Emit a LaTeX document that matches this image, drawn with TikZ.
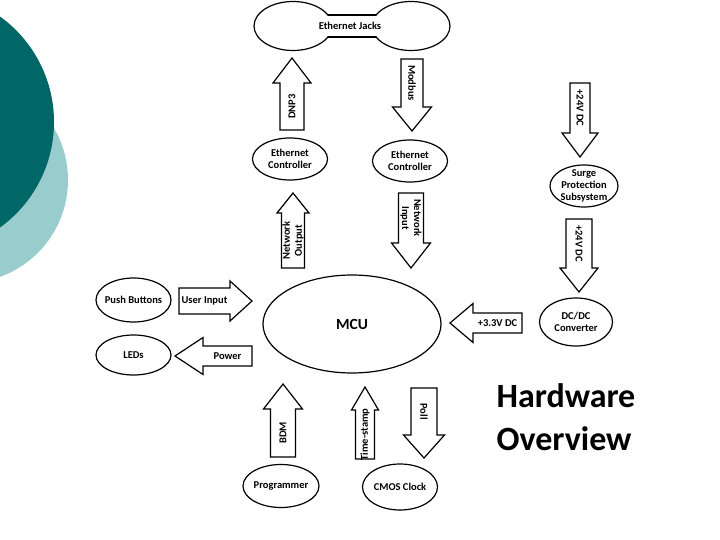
\documentclass[tikz,border=0pt]{standalone}
\usepackage{fontspec}
\setmainfont{Carlito}
\usetikzlibrary{shapes.geometric, positioning, calc}

\definecolor{tealdark}{RGB}{0,102,102}
\definecolor{teallight}{RGB}{153,204,204}

\newcommand{\blklabel}{\fontsize{10.5}{12}\selectfont\bfseries}

% name, tail, tip, shaft half width, head half width, head length, text angle, text
\newcommand{\blockarrow}[8]{%
    \coordinate (#1-t) at #2;
    \coordinate (#1-p) at #3;
    \coordinate (#1-b) at ($(#1-p)!#6!(#1-t)$);
    \draw[fill=white, line join=miter]
        ($(#1-t)!#4!90:(#1-p)$) -- ($(#1-b)!#4!90:(#1-p)$) -- ($(#1-b)!#5!90:(#1-p)$)
        -- (#1-p)
        -- ($(#1-b)!#5!-90:(#1-p)$) -- ($(#1-b)!#4!-90:(#1-p)$) -- ($(#1-t)!#4!-90:(#1-p)$) -- cycle;
    \node[tag, rotate=#7] (#1) at ($(#1-t)!0.5!(#1-b)$) {#8};
}

\begin{document}
\begin{tikzpicture}[x=1pt, y=-1pt, line width=1.2pt]
    \tikzstyle{unit} = [draw, ellipse, fill=white, inner sep=-5pt, align=center, font=\blklabel]
    \tikzstyle{tag} = [inner sep=0pt, align=center, font=\blklabel]

    \fill[white] (0,0) rectangle (720,540);
    \useasboundingbox (0,0) rectangle (720,540);

    % background circles
    \fill[teallight] (-35,180) circle (103pt);
    \fill[tealdark] (-76,122) circle (130pt);

    % ethernet jacks
    \draw[fill=white] (293,26) ellipse [x radius=39pt, y radius=24.5pt];
    \draw[fill=white] (411,26) ellipse [x radius=39pt, y radius=24.5pt];
    \fill[white] (326,15.7) rectangle (378,36.3);
    \draw (327.8,15) -- (376.2,15) (327.8,37) -- (376.2,37);
    \node[tag] (jacks) at (350,26) {Ethernet Jacks};

    \path
        node[unit, minimum width=75pt, minimum height=42pt] (ecout) at (290,159) {Ethernet\\Controller}
        node[unit, minimum width=75pt, minimum height=42pt] (ecin) at (410,161) {Ethernet\\Controller}
        node[unit, minimum width=178pt, minimum height=98pt, font=\fontsize{15.5}{18}\selectfont\bfseries] (mcu) at (352,324) {MCU}
        node[unit, minimum width=75pt, minimum height=44pt] (push) at (133.5,300) {Push Buttons}
        node[unit, minimum width=75pt, minimum height=40pt] (leds) at (133.5,355) {LEDs}
        node[unit, minimum width=68pt, minimum height=42pt] (surge) at (584,186) {Surge\\Protection\\Subsystem}
        node[unit, minimum width=73pt, minimum height=48pt] (dcdc) at (576,322) {DC/DC\\Converter}
        node[unit, minimum width=76pt, minimum height=43pt] (prog) at (281,486) {Programmer}
        node[unit, minimum width=75pt, minimum height=46pt] (cmos) at (400,487) {CMOS Clock};

    \blockarrow{dnp3}{(292,130)}{(292,58)}{12pt}{19pt}{25pt}{90}{DNP3}
    \blockarrow{modbus}{(412,59)}{(412,131)}{11pt}{19.5pt}{24pt}{-90}{Modbus}
    \blockarrow{netout}{(293,268)}{(293,193)}{11.5pt}{16pt}{20pt}{90}{Network\\Output}
    \blockarrow{netin}{(411,193)}{(411,268)}{12.5pt}{19.5pt}{25pt}{-90}{Network\\Input}
    \blockarrow{surgein}{(580,83)}{(580,157)}{10pt}{18pt}{24pt}{-90}{+24V DC}
    \blockarrow{surgeout}{(579,219)}{(579,292)}{13pt}{19pt}{24pt}{-90}{+24V DC}
    \blockarrow{userin}{(179,301)}{(252,301)}{13pt}{20pt}{22pt}{0}{User Input}
    \blockarrow{power}{(252,356)}{(175,356)}{10pt}{18.5pt}{28pt}{0}{Power}
    \blockarrow{supply}{(522,323)}{(450,323)}{10pt}{19.5pt}{23pt}{0}{+3.3V DC}
    \blockarrow{bdm}{(283,457)}{(283,384)}{12.5pt}{19.5pt}{25pt}{90}{BDM}
    \blockarrow{tstamp}{(365,459)}{(365,387)}{9.5pt}{13.5pt}{23pt}{90}{Time-stamp}
    \blockarrow{poll}{(424,388)}{(424,458)}{13pt}{20.5pt}{23pt}{-90}{Poll}

    % title
    \node[anchor=base west, inner sep=0pt, font=\fontsize{34}{40}\selectfont\bfseries] (hw) at (496,407) {Hardware};
    \node[anchor=base west, inner sep=0pt, font=\fontsize{34}{40}\selectfont\bfseries] (ov) at (496,450) {Overview};
\end{tikzpicture}
\end{document}
